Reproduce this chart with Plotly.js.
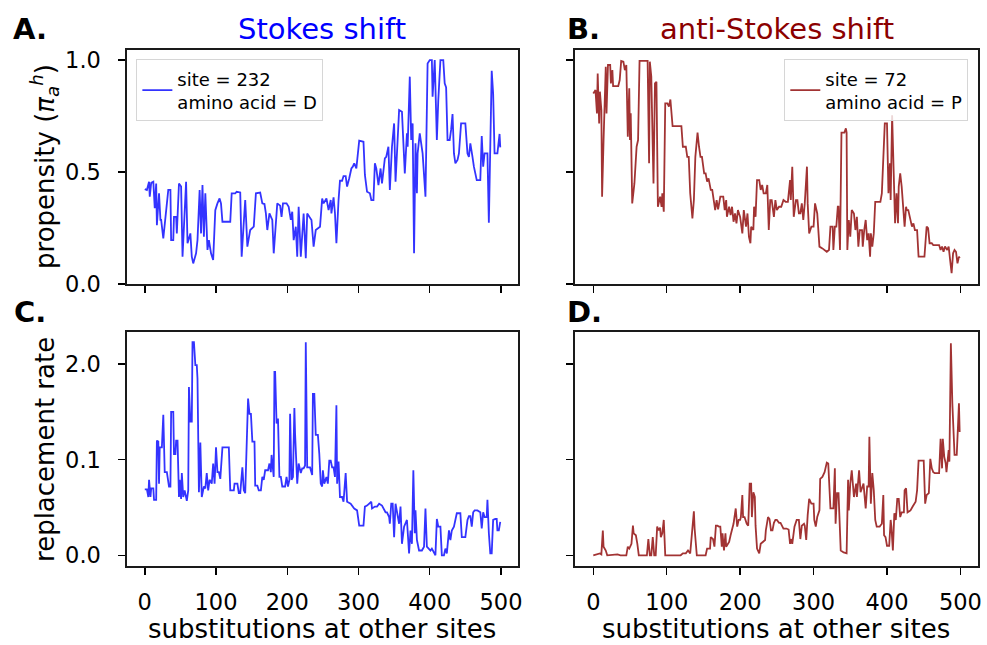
<!DOCTYPE html>
<html>
<head>
<meta charset="utf-8">
<script src="https://cdn.plot.ly/plotly-3.0.1.min.js"></script>
<style>html,body{margin:0;padding:0;background:#fff;}#chart{width:987px;height:645px;}</style>
</head>
<body>
<div id="chart"></div>
<script>
// ---- Data ----
// A. Stokes shift: propensity, site 232, amino acid D
const xStokesProp = [0,3,6,7,9,12,14,16,17,20,22,23,26,29,33,36,37,40,41,44,45,48,51,53,56,58,60,64,66,68,72,74,77,79,81,83,85,88,90,93,96,99,102,105,107,109,120,122,127,129,134,136,138,141,144,148,153,156,162,165,168,170,172,175,179,181,186,190,192,194,199,202,205,207,209,212,214,216,219,221,223,226,228,231,234,237,240,246,249,251,255,258,261,262,265,267,269,272,274,277,279,282,284,287,290,292,294,297,301,307,309,312,316,318,321,323,325,328,331,333,337,339,342,344,347,350,352,354,357,361,365,368,369,372,374,376,378,380,382,383,386,390,394,397,400,403,404,407,410,412,415,419,421,423,425,428,430,432,434,436,439,441,444,450,453,455,457,460,462,466,471,473,475,477,481,483,485,487,489,491,495,497,498,499];
const yStokesProp = [0.424,0.42,0.457,0.39,0.452,0.457,0.338,0.449,0.263,0.405,0.286,0.286,0.204,0.286,0.42,0.42,0.196,0.196,0.30,0.30,0.226,0.449,0.435,0.122,0.375,0.457,0.182,0.226,0.122,0.092,0.137,0.196,0.42,0.226,0.442,0.211,0.405,0.152,0.196,0.137,0.107,0.33,0.36,0.382,0.36,0.278,0.278,0.405,0.405,0.412,0.409,0.122,0.226,0.375,0.167,0.241,0.256,0.405,0.408,0.36,0.357,0.315,0.241,0.315,0.286,0.137,0.36,0.35,0.30,0.36,0.36,0.345,0.286,0.323,0.196,0.256,0.122,0.345,0.122,0.226,0.315,0.115,0.315,0.30,0.286,0.167,0.241,0.256,0.382,0.36,0.382,0.33,0.375,0.315,0.387,0.315,0.182,0.375,0.461,0.461,0.482,0.482,0.435,0.472,0.516,0.524,0.539,0.516,0.64,0.635,0.487,0.412,0.405,0.375,0.375,0.539,0.516,0.442,0.516,0.449,0.561,0.568,0.613,0.42,0.613,0.717,0.457,0.583,0.777,0.769,0.494,0.673,0.613,0.926,0.643,0.717,0.137,0.628,0.405,0.583,0.673,0.583,0.39,0.985,1.0,1.0,0.836,1.0,0.643,0.821,1.0,1.0,0.896,0.878,0.643,0.643,0.688,0.759,0.583,0.539,0.554,0.583,0.717,0.717,0.583,0.568,0.628,0.568,0.524,0.464,0.464,0.661,0.524,0.583,0.583,0.274,0.702,0.952,0.851,0.583,0.583,0.67,0.67,0.61];

// B. anti-Stokes shift: propensity, site 72, amino acid P
const xAntiProp = [0,3,5,6,8,9,11,12,14,17,18,20,23,24,26,27,34,36,38,41,43,45,47,49,50,51,53,56,59,61,63,74,76,77,79,82,84,86,88,91,93,94,96,98,101,103,105,108,120,122,126,128,130,131,132,135,137,139,142,144,146,148,151,153,155,157,160,162,164,166,168,170,173,177,179,181,182,185,187,189,191,193,195,197,200,203,205,208,210,212,214,215,218,219,221,223,226,228,230,232,235,237,239,241,243,246,248,250,253,256,259,262,265,268,269,271,273,276,278,280,282,284,286,288,291,292,294,297,300,302,305,308,312,315,318,321,323,326,327,329,331,333,334,336,338,342,344,345,346,348,350,352,355,357,359,361,363,366,367,369,371,373,375,377,378,380,382,384,391,393,395,397,400,402,404,405,407,409,411,413,415,416,418,420,422,424,426,427,429,431,433,434,436,438,441,443,451,454,456,458,461,463,468,471,473,475,477,479,482,484,486,488,490,492,494,496,498,499];
const yAntiProp = [0.851,0.866,0.762,0.94,0.717,0.859,0.777,0.39,0.643,0.97,0.762,0.978,0.978,0.896,0.955,0.884,0.884,0.911,0.996,0.993,0.955,0.978,0.658,0.874,0.643,0.762,0.36,0.449,0.613,0.643,0.996,0.996,0.539,0.993,0.926,0.449,0.896,0.903,0.345,0.39,0.345,0.405,0.323,0.807,0.807,0.792,0.824,0.705,0.705,0.613,0.613,0.568,0.568,0.509,0.405,0.293,0.375,0.568,0.676,0.613,0.568,0.568,0.494,0.494,0.457,0.472,0.42,0.42,0.375,0.33,0.375,0.333,0.39,0.39,0.33,0.375,0.30,0.345,0.308,0.345,0.278,0.315,0.271,0.33,0.30,0.226,0.33,0.256,0.315,0.211,0.182,0.256,0.241,0.345,0.30,0.464,0.464,0.42,0.442,0.405,0.405,0.442,0.241,0.375,0.375,0.30,0.375,0.33,0.345,0.345,0.375,0.367,0.367,0.464,0.375,0.524,0.30,0.375,0.375,0.315,0.315,0.36,0.286,0.36,0.524,0.36,0.226,0.256,0.256,0.36,0.315,0.167,0.159,0.152,0.144,0.152,0.256,0.256,0.152,0.256,0.256,0.345,0.345,0.152,0.676,0.676,0.695,0.676,0.152,0.286,0.211,0.33,0.315,0.241,0.30,0.167,0.241,0.241,0.167,0.241,0.286,0.196,0.226,0.122,0.226,0.167,0.226,0.367,0.367,0.405,0.554,0.717,0.717,0.405,0.539,0.375,0.754,0.479,0.271,0.405,0.271,0.435,0.494,0.435,0.345,0.256,0.345,0.33,0.33,0.30,0.271,0.256,0.271,0.241,0.241,0.122,0.122,0.256,0.249,0.182,0.182,0.174,0.174,0.174,0.152,0.167,0.144,0.167,0.152,0.167,0.107,0.048,0.137,0.152,0.144,0.092,0.122,0.115];

// C. Stokes shift: replacement rate
const xStokesRate = [0,3,5,6,8,9,12,13,16,17,19,20,21,24,26,28,31,34,36,37,40,41,43,44,46,48,49,51,52,54,56,59,61,62,64,66,67,69,71,73,74,76,78,80,83,85,87,89,91,94,96,98,100,102,104,106,109,118,120,125,126,130,132,134,137,139,141,144,145,147,149,151,154,155,158,160,163,165,167,169,173,175,177,178,181,182,183,185,187,189,191,193,197,199,201,203,204,206,208,210,211,214,216,219,221,223,225,226,228,232,235,236,238,240,243,245,247,249,250,252,255,257,259,261,263,265,267,269,270,272,274,277,279,282,284,289,294,298,301,307,309,312,315,318,319,323,326,329,333,336,338,340,343,344,346,348,350,352,354,357,359,361,364,366,368,371,373,375,377,379,380,382,385,387,389,392,394,396,401,403,406,408,410,412,415,417,420,422,424,427,429,431,434,436,438,443,445,450,453,455,457,459,461,463,467,471,473,475,477,480,481,483,485,487,489,492,494,495,497,499];
const yStokesRate = [0.069,0.069,0.061,0.079,0.061,0.07,0.07,0.058,0.058,0.12,0.119,0.075,0.113,0.113,0.147,0.087,0.087,0.072,0.072,0.15,0.15,0.106,0.106,0.12,0.12,0.061,0.079,0.059,0.086,0.061,0.068,0.057,0.068,0.176,0.14,0.14,0.223,0.223,0.199,0.199,0.185,0.066,0.118,0.061,0.072,0.07,0.086,0.068,0.079,0.075,0.096,0.075,0.113,0.087,0.087,0.08,0.113,0.113,0.068,0.068,0.075,0.075,0.065,0.065,0.092,0.068,0.065,0.127,0.164,0.148,0.148,0.119,0.119,0.073,0.073,0.068,0.068,0.082,0.079,0.089,0.089,0.096,0.087,0.105,0.082,0.192,0.192,0.138,0.143,0.082,0.082,0.072,0.072,0.082,0.072,0.079,0.148,0.079,0.082,0.154,0.127,0.075,0.096,0.086,0.091,0.091,0.094,0.223,0.092,0.092,0.084,0.169,0.169,0.126,0.126,0.106,0.075,0.072,0.089,0.075,0.082,0.075,0.099,0.099,0.092,0.092,0.082,0.157,0.075,0.098,0.061,0.061,0.056,0.086,0.056,0.054,0.049,0.047,0.031,0.031,0.051,0.052,0.054,0.056,0.049,0.051,0.051,0.054,0.052,0.047,0.045,0.045,0.04,0.033,0.054,0.054,0.019,0.054,0.044,0.033,0.051,0.012,0.03,0.033,0.037,0.002,0.026,0.012,0.089,0.023,0.047,0.016,0.005,0.005,0.005,0.009,0.049,0.009,0.005,0.007,0.002,0.0,0.038,0.03,0.03,0.0,0.0,0.007,0.002,0.026,0.016,0.026,0.03,0.037,0.044,0.044,0.019,0.019,0.037,0.041,0.041,0.03,0.045,0.047,0.047,0.045,0.028,0.045,0.04,0.04,0.058,0.023,0.002,0.002,0.037,0.038,0.038,0.026,0.026,0.035];

// D. anti-Stokes shift: replacement rate
const xAntiRate = [0,5,9,11,13,14,17,19,33,37,45,47,49,52,54,55,58,60,62,73,75,77,79,81,83,85,87,89,91,92,94,96,98,119,122,126,129,132,133,135,137,138,141,153,155,159,160,163,165,167,169,171,173,175,176,178,180,181,183,185,187,189,191,194,196,198,200,201,203,204,206,209,211,213,215,216,218,220,221,223,226,228,234,235,238,240,242,244,246,248,250,253,255,259,263,266,268,270,271,274,277,280,282,284,287,288,290,292,294,297,300,301,303,305,308,309,312,315,318,320,323,327,329,330,332,334,337,341,345,347,348,350,352,355,358,359,362,364,365,368,371,373,375,376,378,380,382,384,386,390,393,395,396,398,400,403,405,406,408,410,412,414,416,418,420,423,424,426,428,432,435,439,441,443,450,452,454,457,459,461,463,465,471,473,475,476,478,480,481,484,485,487,489,492,495,496,498,499];
const yAntiRate = [0.0,0.001,0.002,0.001,0.026,0.009,0.005,0.0,0.001,0.0,0.0,0.009,0.007,0.012,0.031,0.023,0.021,0.012,0.0,0.0,0.017,0.0,0.0,0.019,0.0,0.0,0.03,0.026,0.029,0.019,0.023,0.037,0.0,0.0,0.002,0.002,0.005,0.002,0.012,0.033,0.046,0.028,0.0,0.0,0.007,0.007,0.019,0.017,0.009,0.031,0.031,0.03,0.03,0.009,0.023,0.005,0.023,0.009,0.012,0.014,0.021,0.026,0.033,0.049,0.03,0.037,0.037,0.04,0.063,0.04,0.04,0.033,0.031,0.075,0.075,0.04,0.066,0.061,0.031,0.007,0.002,0.012,0.016,0.026,0.04,0.038,0.026,0.026,0.034,0.037,0.037,0.034,0.034,0.028,0.028,0.027,0.012,0.017,0.012,0.03,0.037,0.037,0.017,0.031,0.033,0.031,0.016,0.042,0.059,0.054,0.054,0.037,0.03,0.04,0.047,0.08,0.082,0.087,0.097,0.096,0.049,0.049,0.091,0.033,0.065,0.065,0.005,0.003,0.002,0.079,0.047,0.075,0.089,0.061,0.075,0.061,0.089,0.066,0.068,0.075,0.049,0.072,0.072,0.124,0.054,0.086,0.068,0.037,0.03,0.03,0.033,0.063,0.021,0.019,0.01,0.01,0.037,0.03,0.005,0.044,0.037,0.059,0.059,0.04,0.045,0.045,0.068,0.07,0.045,0.047,0.051,0.056,0.068,0.099,0.099,0.054,0.063,0.065,0.101,0.091,0.087,0.086,0.086,0.122,0.091,0.122,0.103,0.096,0.087,0.11,0.098,0.222,0.159,0.105,0.105,0.12,0.159,0.129];

const xTickVals = [0,100,200,300,400,500];
const xTickText = ['0','100','200','300','400','500'];
const propTickVals = [0,0.5,1.0];
const propTickText = ['0.0','0.5','1.0'];
const rateTickVals = [0,0.1,0.2];
const rateTickText = ['0.0','0.1','2.0'];
const legendStokes = 'site = 232<br>amino acid = D';
const legendAnti = 'site = 72<br>amino acid = P';

// ---- Styling ----
const FONT = 'DejaVu Sans, Liberation Sans, sans-serif';
const blue = 'rgba(0,0,255,0.8)';
const red = 'rgba(139,0,0,0.8)';
const LW = 1.8;

const traces = [
  {x:xStokesProp, y:yStokesProp, xaxis:'x', yaxis:'y', type:'scatter', mode:'lines',
   line:{color:blue, width:LW}, name:legendStokes, legend:'legend', showlegend:true},
  {x:xAntiProp, y:yAntiProp, xaxis:'x2', yaxis:'y2', type:'scatter', mode:'lines',
   line:{color:red, width:LW}, name:legendAnti, legend:'legend2', showlegend:true},
  {x:xStokesRate, y:yStokesRate, xaxis:'x3', yaxis:'y3', type:'scatter', mode:'lines',
   line:{color:blue, width:LW}, showlegend:false},
  {x:xAntiRate, y:yAntiRate, xaxis:'x4', yaxis:'y4', type:'scatter', mode:'lines',
   line:{color:red, width:LW}, showlegend:false}
];

const tickFont = {family:FONT, size:22.5, color:'#000'};
function xa(domain, anchor, labels){
  return {domain:domain, anchor:anchor, range:[-24.95,523.95], tickmode:'array',
    tickvals:xTickVals, ticktext:xTickText, showticklabels:labels, ticks:'outside',
    ticklen:7, tickwidth:1.5, tickcolor:'#000', ticklabelstandoff:8,
    showline:true, linecolor:'#1a1a1a', linewidth:1.6, mirror:true,
    showgrid:false, zeroline:false, tickfont:tickFont, automargin:false, fixedrange:true};
}
function ya(domain, anchor, range, vals, text, labels){
  return {domain:domain, anchor:anchor, range:range, tickmode:'array',
    tickvals:vals, ticktext:text, showticklabels:labels, ticks:'outside',
    ticklen:7, tickwidth:1.5, tickcolor:'#000', ticklabelstandoff:13,
    showline:true, linecolor:'#1a1a1a', linewidth:1.6, mirror:true,
    showgrid:false, zeroline:false, tickfont:tickFont, automargin:false, fixedrange:true};
}

const dL = [0, 0.4595], dR = [0.5264, 1];
const dT = [0.5465, 1], dB = [0, 0.4541];
const propRange = [0, 1.045];
const rateRange = [-0.0112, 0.2340];

const ann = [];
function txt(text, x, y, size, opts){
  ann.push(Object.assign({text:text, x:x, y:y, xref:'paper', yref:'paper', showarrow:false,
    font:{family:FONT, size:size, color:'#000'}, xanchor:'center', yanchor:'middle'}, opts||{}));
}
// panel titles
txt('Stokes shift', 0.2297, 1.0407, 29, {font:{family:FONT, size:29, color:'#0000ff'}});
txt('anti-Stokes shift', 0.7635, 1.0407, 29, {font:{family:FONT, size:29, color:'#8b0000'}});
// panel letters
txt('<b>A.</b>', -0.1363, 1.0407, 29, {xanchor:'left'});
txt('<b>B.</b>', 0.5147, 1.0407, 29, {xanchor:'left'});
txt('<b>C.</b>', -0.1355, 0.4928, 29, {xanchor:'left'});
txt('<b>D.</b>', 0.5147, 0.4928, 29, {xanchor:'left'});
// axis titles
txt('propensity (<i>π</i><sub><i>a</i></sub><sup><i>h</i></sup>)', -0.0964, 0.7752, 26, {textangle:-90});
txt('replacement rate', -0.0964, 0.2267, 26, {textangle:-90});
txt('substitutions at other sites', 0.2297, -0.1525, 26, {yanchor:'bottom', borderpad:0});
txt('substitutions at other sites', 0.7624, -0.1525, 26, {yanchor:'bottom', borderpad:0});

const legendStyle = {font:{family:FONT, size:18, color:'#000'}, bgcolor:'rgba(255,255,255,0.8)',
  bordercolor:'#d6d6d6', borderwidth:1, xref:'paper', yref:'paper', yanchor:'top', tracegroupgap:0};

const layout = {
  width:987, height:645,
  margin:{l:127, r:9, t:50, b:79, pad:0},
  paper_bgcolor:'#fff', plot_bgcolor:'#fff',
  font:{family:FONT, size:18, color:'#000'},
  xaxis: xa(dL, 'y', false),
  xaxis2: xa(dR, 'y2', false),
  xaxis3: xa(dL, 'y3', true),
  xaxis4: xa(dR, 'y4', true),
  yaxis: ya(dT, 'x', propRange, propTickVals, propTickText, true),
  yaxis2: ya(dT, 'x2', propRange, propTickVals, propTickText, false),
  yaxis3: ya(dB, 'x3', rateRange, rateTickVals, rateTickText, true),
  yaxis4: ya(dB, 'x4', rateRange, rateTickVals, rateTickText, false),
  legend: Object.assign({x:0.011, y:0.982, xanchor:'left'}, legendStyle),
  legend2: Object.assign({x:0.9886, y:0.982, xanchor:'right'}, legendStyle),
  annotations: ann,
  hovermode:false
};

Plotly.newPlot('chart', traces, layout, {displayModeBar:false, staticPlot:true});
</script>
</body>
</html>
